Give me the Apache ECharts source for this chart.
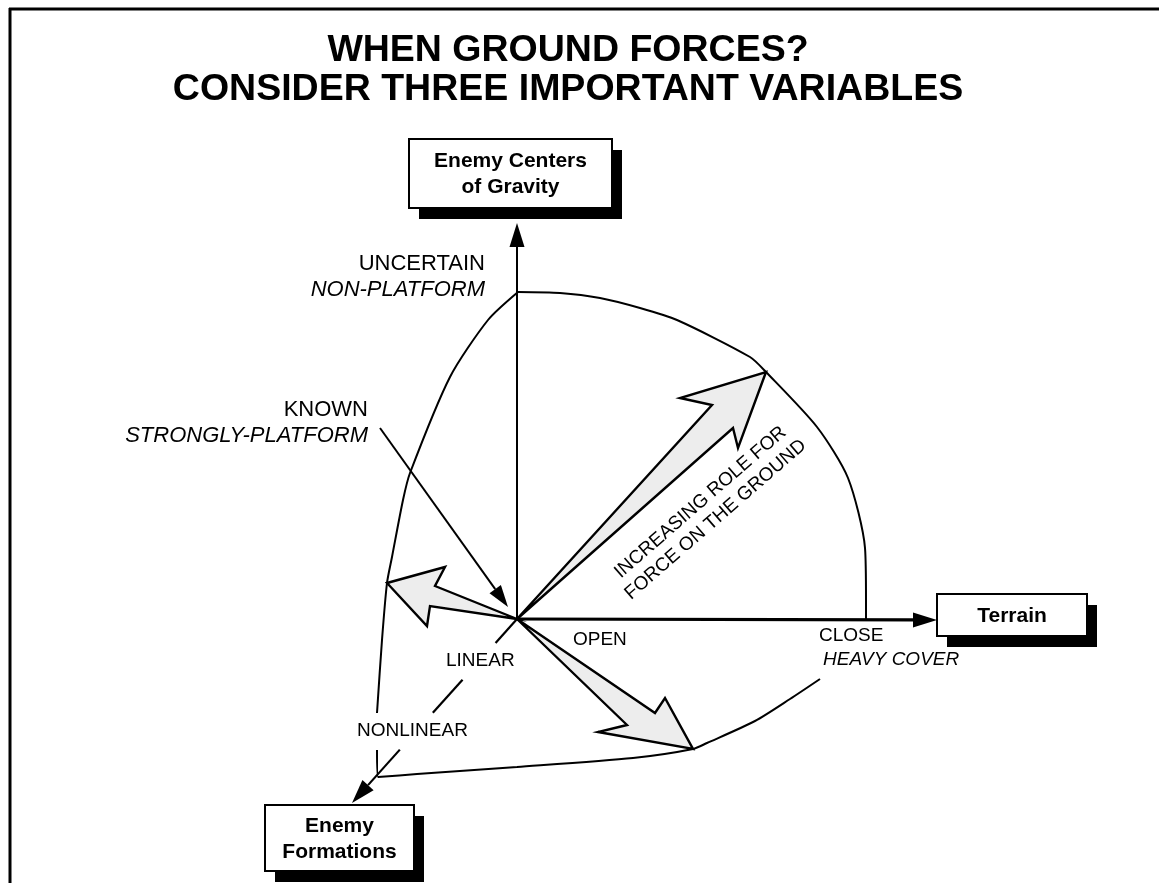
<!DOCTYPE html>
<html><head><meta charset="utf-8">
<script src="https://cdn.jsdelivr.net/npm/echarts@6/dist/echarts.min.js"></script>
<style>html,body{margin:0;padding:0;background:#fff}#c{width:1159px;height:883px}</style>
</head><body><div id="c"></div>
<script>
// Diagram coordinates: the three variables meet at the origin (0,0); y grows upward.
const titleLines = ['WHEN GROUND FORCES?', 'CONSIDER THREE IMPORTANT VARIABLES'];
const origin = [0, 0];
const axisNames = ['Enemy Centers\nof Gravity', 'Terrain', 'Enemy\nFormations'];
const axisTips = [[0, 396], [420, -1], [-165, -184]];
const axisBoxCenters = [[-6.5, 445.5], [495, 4], [-177.5, -219]];
const formationAxisSegments = [[0, 0.13], [0.33, 0.51], [0.71, 1]];

// boundary of the "ground force" region, drawn in three pieces (gaps for labels)
const boundaryUpper = [[1, 327], [43, 326], [83, 321], [123, 311], [160, 299], [233, 262], [249, 247],
  [300, 192], [331, 141], [348, 71], [349, 19], [349, -1]];
const boundaryLower = [[303, -60], [273, -80], [238, -102], [190, -124], [176, -130], [116, -139],
  [0, -148], [-100, -155], [-139, -158], [-140, -131]];
const boundaryLeft = [[-140, -94], [-135, -21], [-130, 36], [-125, 62], [-114, 119], [-107, 146],
  [-67, 242], [-29, 299], [1, 327]];

// broad arrows out of the origin
const roleArrow = [[0, 0], [195, 214], [163, 221], [249, 247], [221, 171], [216, 191]];
const leftArrow = [[0, 0], [-82, 33], [-72, 52], [-130, 36], [-90, -7], [-87, 13]];
const downArrow = [[0, 0], [138, -94], [148, -79], [176, -130], [81, -113], [110, -106]];

const knownPointer = [[-137, 191], [-9, 12]];

const descriptorNames = ['UNCERTAIN', 'KNOWN', 'OPEN', 'CLOSE', 'LINEAR', 'NONLINEAR'];
const descriptorSubtitles = ['NON-PLATFORM', 'STRONGLY-PLATFORM', '', 'HEAVY COVER', '', ''];
const descriptorAnchors = [[-32, 347], [-149, 201], [56, -28], [302, -24], [-71, -49], [-160, -119]];

const roleLabel = 'INCREASING ROLE FOR\nFORCE ON THE GROUND';
const roleLabelAnchor = [191, 108];
const roleLabelAngle = 41;

const FONT = '"Liberation Sans", Arial, Helvetica, sans-serif';
const chart = echarts.init(document.getElementById('c'));

function head(tip, from, len, hw) {
  const dx = tip[0] - from[0], dy = tip[1] - from[1];
  const L = Math.hypot(dx, dy), ux = dx / L, uy = dy / L;
  const bx = tip[0] - ux * len, by = tip[1] - uy * len;
  return { base: [bx, by], pts: [[tip[0], tip[1]], [bx - uy * hw, by + ux * hw], [bx + uy * hw, by - ux * hw]] };
}

function boundarySeries(data) {
  return {
    type: 'line', data: data, showSymbol: false, symbol: 'none', smooth: 0.25,
    lineStyle: { color: '#000', width: 2 }, silent: true, animation: false, z: 2
  };
}

function fatArrowSeries(poly) {
  return {
    type: 'custom', data: [[0, 0]], silent: true, animation: false, clip: false, z: 4,
    renderItem: function (params, api) {
      return {
        type: 'polygon',
        shape: { points: poly.map(p => api.coord(p)) },
        style: { fill: '#ededed', stroke: '#000', lineWidth: 2.4, lineJoin: 'miter' }
      };
    }
  };
}

const axisWidths = [2, 3.2, 2.2];

const option = {
  animation: false,
  backgroundColor: '#fff',
  title: {
    text: titleLines.join('\n'),
    left: 563, top: 26, textAlign: 'center',
    textStyle: { fontFamily: FONT, fontSize: 37.5, fontWeight: 'bold', lineHeight: 39, color: '#000' }
  },
  grid: { left: 0, right: 0, top: 0, bottom: 0 },
  xAxis: { type: 'value', min: -517, max: 642, show: false },
  yAxis: { type: 'value', min: -264, max: 619, show: false },
  graphic: [
    { type: 'line', shape: { x1: 10, y1: 8, x2: 10, y2: 883 }, style: { stroke: '#000', lineWidth: 3 } },
    { type: 'line', shape: { x1: 9, y1: 9, x2: 1159, y2: 9 }, style: { stroke: '#000', lineWidth: 3 } }
  ],
  series: [
    boundarySeries(boundaryUpper),
    boundarySeries(boundaryLower),
    boundarySeries(boundaryLeft),
    fatArrowSeries(roleArrow),
    fatArrowSeries(leftArrow),
    fatArrowSeries(downArrow),
    { // the three variable axes
      type: 'custom', silent: true, animation: false, clip: false, z: 5,
      data: axisTips.map((t, i) => [t[0], t[1], i]),
      renderItem: function (params, api) {
        const i = api.value(2);
        const o = api.coord(origin);
        const tip = api.coord([api.value(0), api.value(1)]);
        const h = head(tip, o, 24, 7.5);
        const children = [];
        const segs = i === 2 ? formationAxisSegments : [[0, 1]];
        segs.forEach(s => {
          const a = s[0], b = s[1];
          const end = b === 1 ? h.base : [o[0] + (tip[0] - o[0]) * b, o[1] + (tip[1] - o[1]) * b];
          children.push({
            type: 'line',
            shape: { x1: o[0] + (tip[0] - o[0]) * a, y1: o[1] + (tip[1] - o[1]) * a, x2: end[0], y2: end[1] },
            style: { stroke: '#000', lineWidth: axisWidths[i] }
          });
        });
        children.push({ type: 'polygon', shape: { points: h.pts }, style: { fill: '#000' } });
        return { type: 'group', children: children };
      }
    },
    { // pointer from KNOWN
      type: 'custom', silent: true, animation: false, clip: false, z: 5,
      data: [[knownPointer[1][0], knownPointer[1][1]]],
      renderItem: function (params, api) {
        const a = api.coord(knownPointer[0]);
        const b = api.coord(knownPointer[1]);
        const h = head(b, a, 22, 7);
        return {
          type: 'group', children: [
            { type: 'line', shape: { x1: a[0], y1: a[1], x2: h.base[0], y2: h.base[1] }, style: { stroke: '#000', lineWidth: 2 } },
            { type: 'polygon', shape: { points: h.pts }, style: { fill: '#000' } }
          ]
        };
      }
    },
    { // axis name boxes
      type: 'custom', silent: true, animation: false, clip: false, z: 6,
      data: axisBoxCenters.map((c, i) => [c[0], c[1], i]),
      renderItem: function (params, api) {
        const i = api.value(2);
        const c = api.coord([api.value(0), api.value(1)]);
        const sizes = [[203, 69], [150, 42], [149, 66]];
        const w = sizes[i][0], hgt = sizes[i][1];
        const x = c[0] - w / 2, y = c[1] - hgt / 2;
        return {
          type: 'group', children: [
            { type: 'rect', shape: { x: x + 10, y: y + 11, width: w, height: hgt }, style: { fill: '#000' } },
            { type: 'rect', shape: { x: x, y: y, width: w, height: hgt }, style: { fill: '#fff', stroke: '#000', lineWidth: 2 } },
            { type: 'text', style: { x: c[0], y: c[1] + 1, text: axisNames[i], font: 'bold 21px ' + FONT,
              textAlign: 'center', textVerticalAlign: 'middle', lineHeight: 26, fill: '#000' } }
          ]
        };
      }
    },
    { // descriptor labels along each axis
      type: 'custom', silent: true, animation: false, clip: false, z: 6,
      data: descriptorAnchors.map((a, i) => [a[0], a[1], i]),
      renderItem: function (params, api) {
        const i = api.value(2);
        const p = api.coord([api.value(0), api.value(1)]);
        const align = i < 2 ? 'right' : 'left';
        const fs = i < 2 ? 22 : 19;
        const gap = i < 2 ? 26 : 24;
        const yc = p[1] - fs * 0.36;
        const children = [
          { type: 'text', style: { x: p[0], y: yc, text: descriptorNames[i], font: fs + 'px ' + FONT,
            textAlign: align, textVerticalAlign: 'middle', fill: '#000' } }
        ];
        if (descriptorSubtitles[i]) {
          children.push({ type: 'text', style: { x: p[0] + (i < 2 ? 0 : 4), y: yc + gap, text: descriptorSubtitles[i],
            font: 'italic ' + fs + 'px ' + FONT, textAlign: align, textVerticalAlign: 'middle', fill: '#000' } });
        }
        return { type: 'group', children: children };
      }
    },
    { // rotated label along the broad arrow
      type: 'custom', silent: true, animation: false, clip: false, z: 6,
      data: [roleLabelAnchor],
      renderItem: function (params, api) {
        const p = api.coord([api.value(0), api.value(1)]);
        return {
          type: 'text', x: p[0], y: p[1], rotation: roleLabelAngle * Math.PI / 180,
          style: { x: 0, y: 0, text: roleLabel, font: '19px ' + FONT, textAlign: 'center',
            textVerticalAlign: 'middle', lineHeight: 23, fill: '#000' }
        };
      }
    }
  ]
};
chart.setOption(option);
</script>
</body></html>
